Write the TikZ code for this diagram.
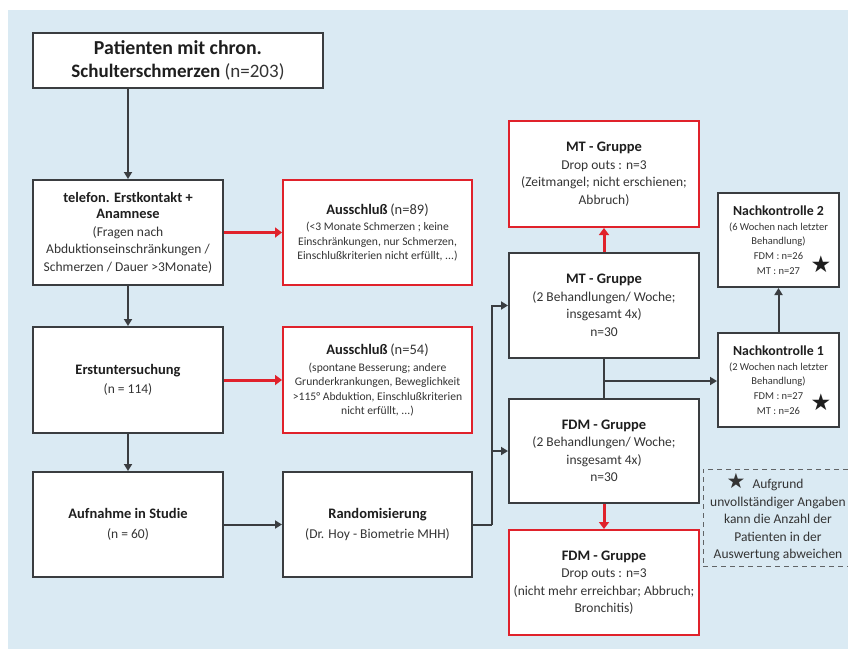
\documentclass[tikz,border=0pt]{standalone}
\usepackage{fontspec}
\setmainfont{Carlito}
\newfontfamily\starfont{DejaVu Sans}
\usetikzlibrary{arrows.meta,calc}
\definecolor{bgc}{HTML}{DAEAF3}
\definecolor{boxc}{HTML}{3A3D40}
\definecolor{redc}{HTML}{E0222B}
\definecolor{txt}{HTML}{343434}
\definecolor{ttl}{HTML}{1E1E1E}
\newcommand{\bigtxt}{\fontsize{19}{23}\selectfont}
\newcommand{\midtxt}{\fontsize{13.5}{17.5}\selectfont}
\newcommand{\smalltxt}{\fontsize{11.6}{14.5}\selectfont}
\newcommand{\tinytxt}{\fontsize{10.5}{14.7}\selectfont}
\newcommand{\ttlb}[1]{{\bfseries\color{ttl}\fontsize{14.5}{17.5}\selectfont #1}}
\newcommand{\ttlt}[1]{{\bfseries\color{ttl}\fontsize{14.4}{17.5}\selectfont #1}}
\newcommand{\ttlc}[1]{{\bfseries\color{ttl}\fontsize{13.8}{17.5}\selectfont #1}}
\newcommand{\ttlbig}[1]{{\bfseries\color{ttl}#1}}
\newcommand{\blackstar}{{\starfont\fontsize{23}{23}\selectfont ★}}
\newcommand{\notestar}{{\starfont\fontsize{21}{17.5}\selectfont ★}}
\begin{document}
\begin{tikzpicture}[x=1pt,y=-1pt,
  box/.style={draw=boxc, line width=2pt, fill=white, align=center, inner sep=0pt, text=txt,
    minimum width=190pt, minimum height=105pt, font=\midtxt},
  redbox/.style={box, draw=redc},
  smallbox/.style={box, minimum width=121pt, minimum height=94pt, font=\tinytxt},
  arr/.style={draw=boxc, line width=2pt, -{Triangle[length=7pt,width=8pt]}},
  plainline/.style={draw=boxc, line width=2pt},
  redarr/.style={draw=redc, line width=3pt, -{Triangle[length=7pt,width=10pt]}},
  starnode/.style={inner sep=0pt, text=ttl}
]
\path[clip] (0,0) rectangle (848,649);
\fill[white] (0,0) rectangle (848,649);
\fill[bgc] (8,10) rectangle (848,649);

\node[box, minimum width=290pt, minimum height=55pt, font=\bigtxt] (p) at (178,60.5)
  {\ttlbig{\fontsize{19.8}{23}\selectfont Patienten mit chron.}\\\ttlbig{Schulterschmerzen} (n=203)};
\node[box] (tel) at (128,232.5)
  {\ttlt{telefon. Erstkontakt +}\\[-1pt]\ttlt{Anamnese}\\(Fragen nach\\Abduktionseinschränkungen /\\Schmerzen / Dauer >3Monate)};
\node[redbox, minimum width=189pt, font=\smalltxt] (a89) at (377.5,232.5)
  {\ttlb{Ausschluß} {\fontsize{14.5}{17}\selectfont (n=89)}\\[2pt](<3 Monate Schmerzen ; keine\\Einschränkungen, nur Schmerzen,\\Einschlußkriterien nicht erfüllt, ...)};
\node[box, minimum height=106pt] (erst) at (128,380)
  {\ttlb{Erstuntersuchung}\\[1pt](n = 114)};
\node[redbox, minimum width=189pt, minimum height=106pt, font=\smalltxt] (a54) at (377.5,380)
  {\ttlb{Ausschluß} {\fontsize{14.5}{17}\selectfont (n=54)}\\[2pt](spontane Besserung; andere\\Grunderkrankungen, Beweglichkeit\\>115° Abduktion, Einschlußkriterien\\nicht erfüllt, ...)};
\node[box] (auf) at (128,524.5)
  {\ttlb{Aufnahme in Studie}\\[2pt](n = 60)};
\node[box, minimum width=189pt] (rand) at (377.5,524.5)
  {\ttlb{Randomisierung}\\[2pt](Dr. Hoy - Biometrie MHH)};
\node[redbox, minimum height=106pt] (mtd) at (604,174)
  {\ttlb{MT - Gruppe}\\Drop outs : n=3\\(Zeitmangel; nicht erschienen;\\Abbruch)};
\node[box] (mt) at (604,305.5)
  {\ttlb{MT - Gruppe}\\(2 Behandlungen/ Woche;\\insgesamt 4x)\\n=30};
\node[box, minimum height=104pt] (fdm) at (604,451)
  {\ttlb{FDM - Gruppe}\\(2 Behandlungen/ Woche;\\insgesamt 4x)\\n=30};
\node[redbox] (fdmd) at (604,582.5)
  {\ttlb{FDM - Gruppe}\\Drop outs : n=3\\(nicht mehr erreichbar; Abbruch;\\Bronchitis)};
\node[smallbox] (nk2) at (778.5,240)
  {\ttlc{Nachkontrolle 2}\\(6 Wochen nach letzter\\Behandlung)\\FDM : n=26\\MT : n=27};
\node[smallbox] (nk1) at (778.5,380)
  {\ttlc{Nachkontrolle 1}\\(2 Wochen nach letzter\\Behandlung)\\FDM : n=27\\MT : n=26};
\node[starnode] (s2) at (821,264) {\blackstar};
\node[starnode] (s1) at (821,402) {\blackstar};

\node[draw=boxc!80, line width=1pt, dash pattern=on 5pt off 4pt, align=center, text=txt,
  inner sep=0pt, minimum width=150pt, minimum height=97pt, font=\midtxt] (note) at (778,517.5)
  {\makebox[0pt][r]{\notestar\hspace{7pt}}Aufgrund\\unvollständiger Angaben\\kann die Anzahl der\\Patienten in der\\Auswertung abweichen};

\draw[arr] (p.south -| tel.north) -- (tel.north);
\draw[redarr] (tel.east) -- (a89.west);
\draw[arr] (tel.south) -- (erst.north);
\draw[redarr] (erst.east) -- (a54.west);
\draw[arr] (erst.south) -- (auf.north);
\draw[arr] (auf.east) -- (rand.west);
\coordinate (j) at (492,524.5);
\draw[plainline] (rand.east) -- (j);
\draw[arr] (j) |- (mt.west);
\draw[arr] (j) |- (fdm.west);
\draw[redarr] (mt.north) -- (mtd.south);
\draw[redarr] (fdm.south) -- (fdmd.north);
\draw[plainline] (mt.south) -- (fdm.north);
\coordinate (m) at (604,381);
\draw[arr] (m) -- (m -| nk1.west);
\draw[arr] (nk1.north) -- (nk2.south);
\end{tikzpicture}
\end{document}
